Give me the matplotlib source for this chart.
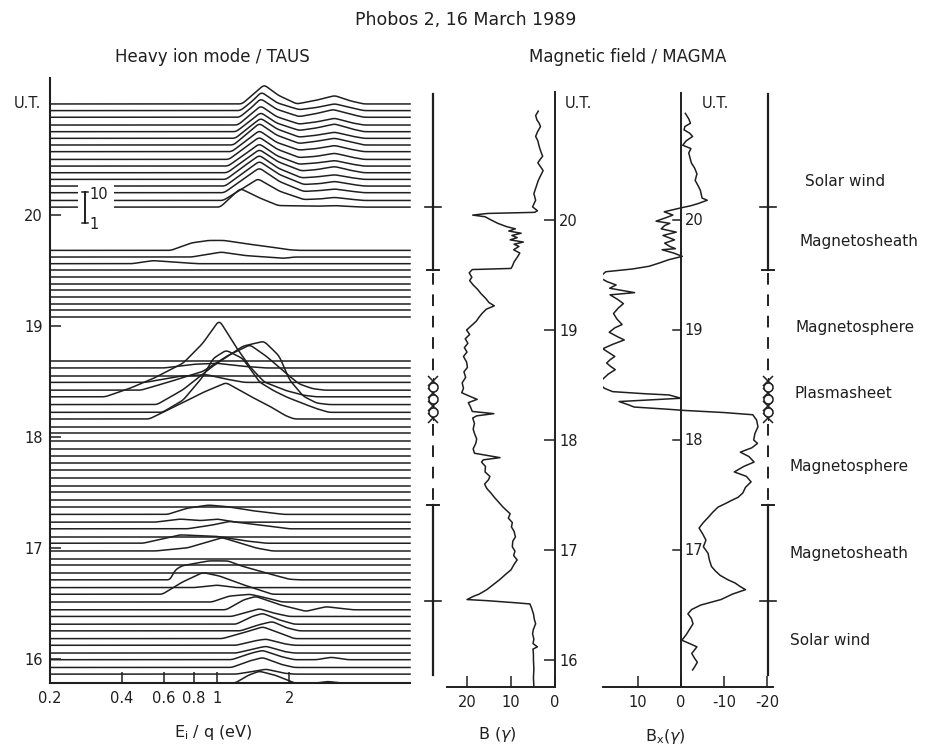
import numpy as np
import matplotlib
matplotlib.use("Agg")
import matplotlib.pyplot as plt
from matplotlib.patches import Rectangle

# ---------------- data ----------------
title = "Phobos 2, 16 March 1989"
left_title = "Heavy ion mode / TAUS"
right_title = "Magnetic field / MAGMA"

# energy tick values (eV)
energy_ticks = [0.2, 0.4, 0.6, 0.8, 1, 2]
energy_tick_labels = ["0.2", "0.4", "0.6", "0.8", "1", "2"]
ut_ticks = [16, 17, 18, 19, 20]

# UT (hours) of each heavy-ion spectrum baseline
spectra_ut = [
    21.00, 20.94, 20.88, 20.81, 20.75, 20.69, 20.63, 20.57, 20.50, 20.44,
    20.38, 20.32, 20.26, 20.20, 20.13, 20.07,
    19.68, 19.62, 19.56, 19.50, 19.44, 19.38, 19.32, 19.26, 19.20, 19.14, 19.08,
    18.68, 18.62, 18.55, 18.49, 18.42, 18.36, 18.29, 18.22, 18.16, 18.09,
    18.03, 17.96, 17.89, 17.83, 17.76, 17.70, 17.63, 17.56, 17.50, 17.43,
    17.37, 17.30, 17.23, 17.17, 17.10, 17.04, 16.97, 16.90, 16.84, 16.77,
    16.71, 16.64, 16.58, 16.51, 16.44, 16.38, 16.31, 16.25, 16.18, 16.12,
    16.05, 15.99, 15.92, 15.86, 15.78,
]

# non-flat spectra: index -> [(energy eV, log10 counts), ...]
spectra_shapes = {
    0: [(1.27, 0), (1.42, 0.32), (1.57, 0.62), (1.8, 0.28), (2.15, 0.0), (2.6, 0.12), (3.1, 0.27), (3.6, 0.1), (4.1, 0)],
    1: [(1.25, 0), (1.4, 0.3), (1.53, 0.6), (1.78, 0.25), (2.2, 0.03), (2.6, 0.1), (3.1, 0.22), (3.6, 0.1), (4.1, 0)],
    2: [(1.24, 0), (1.39, 0.31), (1.52, 0.6), (1.77, 0.26), (2.2, 0.02), (2.6, 0.12), (3.05, 0.25), (3.6, 0.1), (4.1, 0)],
    3: [(1.22, 0), (1.37, 0.32), (1.52, 0.62), (1.77, 0.27), (2.2, 0.03), (2.6, 0.1), (3.1, 0.22), (3.6, 0.08), (4.1, 0)],
    4: [(1.2, 0), (1.36, 0.32), (1.52, 0.62), (1.77, 0.28), (2.2, 0.04), (2.6, 0.12), (3.1, 0.25), (3.6, 0.1), (4.1, 0)],
    5: [(1.19, 0), (1.35, 0.34), (1.52, 0.65), (1.78, 0.3), (2.2, 0.04), (2.6, 0.1), (3.1, 0.2), (3.6, 0.08), (4.1, 0)],
    6: [(1.17, 0), (1.33, 0.36), (1.5, 0.7), (1.77, 0.32), (2.2, 0.05), (2.6, 0.12), (3.1, 0.22), (3.6, 0.1), (4.1, 0)],
    7: [(1.15, 0), (1.32, 0.35), (1.5, 0.68), (1.77, 0.3), (2.2, 0.05), (2.6, 0.1), (3.1, 0.2), (3.6, 0.08), (4.1, 0)],
    8: [(1.12, 0), (1.3, 0.37), (1.5, 0.72), (1.78, 0.33), (2.2, 0.06), (2.6, 0.1), (3.1, 0.2), (3.6, 0.08), (4.1, 0)],
    9: [(1.11, 0), (1.3, 0.37), (1.5, 0.72), (1.78, 0.33), (2.2, 0.06), (2.6, 0.1), (3.1, 0.18), (3.6, 0.07), (4.1, 0)],
    10: [(1.1, 0), (1.29, 0.38), (1.5, 0.75), (1.8, 0.35), (2.25, 0.06), (2.6, 0.1), (3.1, 0.2), (3.6, 0.08), (4.1, 0)],
    11: [(1.09, 0), (1.28, 0.4), (1.5, 0.78), (1.8, 0.36), (2.25, 0.05), (2.6, 0.08), (3.1, 0.15), (3.6, 0.06), (4.1, 0)],
    12: [(1.08, 0), (1.28, 0.41), (1.5, 0.8), (1.82, 0.37), (2.3, 0.05), (2.7, 0.08), (3.1, 0.15), (3.6, 0.06), (4.1, 0)],
    13: [(1.07, 0), (1.27, 0.41), (1.5, 0.8), (1.82, 0.36), (2.3, 0.04), (2.7, 0.07), (3.1, 0.12), (3.6, 0.05), (4.1, 0)],
    14: [(1.06, 0), (1.26, 0.36), (1.48, 0.7), (1.82, 0.3), (2.3, 0.03), (2.7, 0.05), (3.1, 0.1), (3.6, 0.04), (4.1, 0)],
    15: [(1.03, 0), (1.14, 0.32), (1.25, 0.6), (1.5, 0.3), (1.8, 0.05), (2.6, 0.03), (3.1, 0.05), (3.6, 0.02), (4.1, 0)],
    16: [(0.64, 0), (0.78, 0.24), (0.92, 0.32), (1.07, 0.32), (1.3, 0.22), (1.6, 0.13), (2.0, 0.02), (2.2, 0)],
    17: [(0.78, 0), (0.9, 0.08), (1.04, 0.16), (1.3, 0.05), (1.6, 0.0), (1.9, -0.04), (2.1, 0)],
    18: [(0.44, 0), (0.54, 0.1), (0.69, 0.04), (0.83, 0)],
    28: [(0.6, 0), (0.8, 0.12), (1.0, 0.15), (1.3, 0.05), (1.6, 0)],
    30: [(0.5, 0), (0.7, 0.2), (0.9, 0.25), (1.1, 0.1), (1.3, 0)],
    31: [(0.48, 0), (0.62, 0.25), (0.87, 0.6), (1.1, 1.1), (1.37, 1.46), (1.6, 1.1), (1.9, 0.6), (2.2, 0.2), (2.5, 0.05), (2.8, 0)],
    32: [(0.34, 0), (0.43, 0.27), (0.54, 0.59), (0.72, 1.08), (0.87, 1.72), (1.02, 2.47), (1.2, 1.6), (1.37, 0.97), (1.57, 0.48), (1.94, 0.2), (2.3, 0.05), (2.6, 0)],
    33: [(0.56, 0), (0.72, 0.48), (0.96, 1.24), (1.28, 1.88), (1.57, 2.04), (1.82, 1.56), (2.0, 0.81), (2.29, 0.27), (2.6, 0.05), (2.93, 0)],
    34: [(0.59, 0), (0.72, 0.39), (0.87, 1.14), (0.96, 1.73), (1.09, 2.0), (1.28, 1.73), (1.5, 0.98), (1.71, 0.71), (1.94, 0.5), (2.29, 0.28), (2.6, 0.12), (2.93, 0)],
    35: [(0.52, 0), (0.72, 0.53), (0.87, 0.85), (1.09, 1.17), (1.37, 0.74), (1.65, 0.42), (1.94, 0.1), (2.1, 0)],
    48: [(0.62, 0), (0.75, 0.2), (0.92, 0.3), (1.1, 0.25), (1.4, 0.12), (1.9, 0)],
    49: [(0.55, 0), (0.7, 0.1), (0.85, 0.05), (1.0, 0.1), (1.2, 0)],
    50: [(0.75, 0), (0.95, 0.12), (1.13, 0.24), (1.4, 0.15), (1.8, 0.05), (2.0, 0)],
    52: [(0.49, 0), (0.7, 0.27), (1.0, 0.22), (1.3, 0.08), (1.6, 0)],
    53: [(0.55, 0), (0.75, 0.1), (1.05, 0.43), (1.45, 0.1), (1.7, 0)],
    57: [(0.64, 0), (0.66, 0.29), (0.71, 0.45), (0.92, 0.61), (1.11, 0.61), (1.26, 0.45), (1.57, 0.24), (2.0, 0.02), (2.2, 0)],
    58: [(0.8, 0), (1.0, 0.08), (1.2, 0)],
    59: [(0.59, 0), (0.71, 0.38), (0.87, 0.7), (1.02, 0.59), (1.27, 0.32), (1.7, 0)],
    60: [(0.95, 0), (1.12, 0.19), (1.37, 0.25), (1.59, 0.14), (1.87, 0)],
    61: [(1.09, 0), (1.29, 0.32), (1.45, 0.43), (1.83, 0.16), (2.35, -0.05), (2.85, 0.1), (3.7, 0)],
    62: [(1.15, 0), (1.35, 0.15), (1.5, 0.25), (1.7, 0.12), (2.0, 0)],
    63: [(1.2, 0), (1.4, 0.25), (1.55, 0.35), (1.8, 0.15), (2.1, 0)],
    64: [(1.25, 0), (1.5, 0.2), (1.7, 0.3), (1.95, 0.1), (2.2, 0)],
    65: [(1.05, 0), (1.3, 0.2), (1.55, 0.38), (1.8, 0.2), (2.1, 0)],
    66: [(1.2, 0), (1.45, 0.15), (1.6, 0.2), (1.9, 0.05), (2.1, 0)],
    67: [(1.2, 0), (1.45, 0.15), (1.6, 0.22), (1.9, 0.05), (2.1, 0)],
    68: [(1.15, 0), (1.4, 0.22), (1.55, 0.3), (1.85, 0.1), (2.1, 0), (2.6, 0), (3.0, 0.08), (3.5, 0)],
    69: [(1.15, 0), (1.35, 0.2), (1.55, 0.32), (1.85, 0.1), (2.1, 0)],
    70: [(1.2, 0), (1.45, 0.1), (1.6, 0.16), (1.9, 0.03), (2.1, 0)],
    71: [(1.19, 0), (1.35, 0.25), (1.5, 0.38), (1.75, 0.25), (2.1, 0), (2.6, 0), (2.9, 0.05), (3.3, 0)],
}

# total field B (gamma) vs UT
B_ut = [20.99, 20.95, 20.91, 20.88, 20.85, 20.80, 20.76, 20.72, 20.67, 20.62, 20.58, 20.55, 20.52, 20.48,
        20.45, 20.40, 20.36, 20.30, 20.24, 20.18, 20.12, 20.085, 20.07, 20.06, 20.045, 20.03, 20.00, 19.97,
        19.94, 19.92, 19.90, 19.88, 19.86, 19.84, 19.82, 19.80, 19.78, 19.76, 19.73, 19.70, 19.66, 19.62,
        19.58, 19.56, 19.55, 19.52, 19.48, 19.45, 19.41, 19.37, 19.33, 19.29, 19.25, 19.22, 19.19, 19.15,
        19.12, 19.08, 19.04, 19.00, 18.96, 18.92, 18.88, 18.84, 18.80, 18.76, 18.71, 18.66, 18.62, 18.57,
        18.52, 18.47, 18.43, 18.40, 18.37, 18.34, 18.30, 18.26, 18.24, 18.22, 18.20, 18.15, 18.10, 18.06,
        18.01, 17.97, 17.92, 17.88, 17.84, 17.82, 17.80, 17.76, 17.71, 17.67, 17.64, 17.60, 17.56, 17.52,
        17.48, 17.44, 17.39, 17.36, 17.33, 17.29, 17.25, 17.21, 17.17, 17.12, 17.08, 17.03, 16.99, 16.95,
        16.91, 16.87, 16.82, 16.78, 16.73, 16.68, 16.64, 16.60, 16.58, 16.55, 16.54, 16.52, 16.51, 16.47,
        16.42, 16.37, 16.33, 16.28, 16.24, 16.19, 16.15, 16.12, 16.10, 16.05, 16.00, 15.92, 15.84, 15.76]
B_val = [3.8, 4.4, 4.1, 3.6, 3.3, 4.0, 4.4, 3.9, 3.6, 3.2, 2.8, 3.4, 3.9, 3.2,
         2.7, 3.3, 3.8, 4.3, 4.8, 4.4, 5.1, 4.0, 4.6, 15.3, 18.7, 15.9, 14.5, 13.0,
         11.0, 9.0, 10.5, 7.7, 9.8, 8.6, 10.2, 7.2, 9.3, 8.2, 9.4, 8.0, 8.6, 9.3,
         9.7, 10.0, 18.8, 19.5, 18.9, 19.4, 18.6, 17.6, 16.8, 15.8, 15.0, 13.8, 15.6, 16.6,
         17.2, 17.9, 19.0, 20.1, 19.4, 20.4, 19.8, 20.6, 20.0, 20.8, 20.1, 19.9, 20.7, 20.3,
         21.1, 20.8, 21.2, 19.5, 17.7, 19.7, 19.2, 18.8, 13.9, 17.8, 18.7, 18.3, 18.6, 18.3,
         17.8, 18.0, 18.6, 18.3, 12.5, 16.3, 16.7, 15.8, 15.9, 14.8, 15.1, 16.0, 15.5, 14.6,
         13.8, 12.9, 11.8, 11.0, 10.2, 10.6, 9.7, 9.9, 9.3, 9.0, 9.6, 9.7, 9.1, 9.4,
         8.6, 9.3, 10.0, 11.2, 12.6, 14.2, 15.5, 17.2, 18.5, 20.0, 15.5, 8.7, 5.7, 5.3,
         4.9, 4.7, 4.4, 4.9, 5.1, 4.8, 5.0, 4.0, 5.0, 4.9, 4.9, 4.8, 4.9, 4.8]

# Bx component (gamma) vs UT
Bx_ut = [20.97, 20.92, 20.88, 20.85, 20.82, 20.79, 20.76, 20.72, 20.68, 20.65, 20.61, 20.58, 20.52, 20.47,
         20.42, 20.36, 20.31, 20.27, 20.20, 20.18, 20.15, 20.13, 20.11, 20.075, 20.045, 20.02, 19.99, 19.97,
         19.95, 19.92, 19.89, 19.86, 19.82, 19.79, 19.76, 19.74, 19.73, 19.70, 19.67, 19.64, 19.61, 19.58,
         19.555, 19.53, 19.50, 19.47, 19.44, 19.41, 19.38, 19.34, 19.32, 19.28, 19.24, 19.20, 19.15, 19.10,
         19.05, 19.02, 18.98, 18.94, 18.91, 18.87, 18.83, 18.79, 18.76, 18.73, 18.70, 18.67, 18.64, 18.60,
         18.55, 18.50, 18.47, 18.44, 18.42, 18.41, 18.38, 18.35, 18.32, 18.30, 18.28, 18.27, 18.25, 18.23,
         18.18, 18.12, 18.06, 18.00, 17.97, 17.93, 17.89, 17.85, 17.80, 17.76, 17.71, 17.67, 17.62, 17.57,
         17.52, 17.48, 17.45, 17.42, 17.39, 17.34, 17.30, 17.25, 17.20, 17.15, 17.09, 17.03, 16.97, 16.91,
         16.85, 16.81, 16.77, 16.73, 16.70, 16.67, 16.64, 16.60, 16.55, 16.50, 16.46, 16.42, 16.38, 16.33,
         16.28, 16.23, 16.18, 16.15, 16.12, 16.06, 16.02, 15.98, 15.94, 15.91]
Bx_val = [-1.0, -1.8, -2.2, -0.9, -0.7, -2.0, -2.7, -1.2, -0.4, -2.3, -1.8, -2.0, -2.4, -3.2,
          -3.7, -3.3, -4.0, -4.5, -4.9, -6.1, -4.0, -2.3, 0.1, 3.9, 1.9, 3.6, 5.8, 2.6,
          3.8, 4.6, 1.1, 4.2, 1.5, 3.8, 2.6, 1.3, 4.4, 1.7, -0.3, 2.8, 5.0, 7.4,
          11.3, 17.5, 18.4, 18.6, 17.2, 15.1, 16.6, 10.8, 16.5, 14.8, 13.4, 14.6, 15.7, 14.9,
          13.7, 15.4, 16.7, 14.8, 13.2, 15.9, 18.2, 16.6, 15.4, 16.5, 17.3, 16.4, 15.3, 16.9,
          18.3, 18.7, 17.8, 15.9, 8.0, 2.8, 0.0, 14.4, 12.2, 10.9, 3.0, -0.4, -10.0, -16.7,
          -17.6, -17.9, -17.2, -16.9, -17.8, -16.5, -13.8, -15.8, -17.0, -14.6, -12.4, -15.2, -16.3, -15.0,
          -14.4, -13.3, -11.7, -10.2, -8.6, -7.3, -6.4, -5.2, -4.2, -5.0, -5.8, -5.2, -6.3, -6.6,
          -7.1, -8.0, -9.1, -10.9, -12.6, -13.7, -15.0, -12.0, -9.3, -4.6, -2.5, -1.6, -2.4, -2.8,
          -2.0, -1.2, -0.2, -2.0, -3.7, -2.5, -3.1, -3.8, -3.2, -2.7]

B_ticks = [20, 10, 0]
Bx_ticks = [10, 0, -10, -20]
Bx_ut_labels = [17, 18, 19, 20]

# plasma regions (UT boundaries, top to bottom)
region_bounds = [21.15, 20.12, 19.55, 18.56, 18.18, 17.41, 16.54, 15.86]
region_kind = ["solid", "solid", "dashed", "sheet", "dashed", "solid", "solid"]
region_names = ["Solar wind", "Magnetosheath", "Magnetosphere", "Plasmasheet",
                "Magnetosphere", "Magnetosheath", "Solar wind"]
region_label_ut = [20.35, 19.80, 19.02, 18.42, 17.76, 16.97, 16.18]

# ---------------- drawing ----------------
W, H = 937, 748
ink = "#1f1f1f"
fig = plt.figure(figsize=(W / 100, H / 100), dpi=100)
fig.patch.set_facecolor("white")


def rect(x0, y0, x1, y1):
    return [x0 / W, 1 - y1 / H, (x1 - x0) / W, (y1 - y0) / H]


def ftext(px, py, s, **kw):
    fig.text(px / W, 1 - py / H, s, color=ink, **kw)


ftext(466, 20, title, ha="center", va="center", fontsize=12.5)
ftext(212, 57, left_title, ha="center", va="center", fontsize=12)
ftext(628, 57, right_title, ha="center", va="center", fontsize=12)

# ---- spectra panel ----
DECADE = 0.28  # UT-hours per decade of counts
E_LO, E_HI = 0.2, 6.4
fine_log = np.linspace(np.log10(E_LO), np.log10(E_HI), 500)
kern = np.hanning(15)
kern = kern / kern.sum()


def smooth_trace(E, L):
    lf = np.interp(fine_log, np.log10(E), L)
    pad = len(kern)
    lp = np.concatenate([np.full(pad, lf[0]), lf, np.full(pad, lf[-1])])
    return np.convolve(lp, kern, mode="same")[pad:-pad]


axS = fig.add_axes(rect(50, 78, 410, 683))
axS.set_xscale("log")
axS.set_xlim(E_LO, E_HI)
axS.set_ylim(15.78, 21.234)
for i, t in enumerate(spectra_ut):
    pts = spectra_shapes.get(i, [])
    E = [E_LO] + [p[0] for p in pts] + [E_HI]
    L = np.array([0.0] + [p[1] for p in pts] + [0.0])
    axS.plot(10 ** fine_log, t + smooth_trace(E, L) * DECADE, color=ink, lw=1.1,
             clip_on=False, zorder=2)

# gap + intensity scale bar
axS.add_patch(Rectangle((0.262, 19.9), 0.37 - 0.262, 0.39, facecolor="white",
                        edgecolor="none", zorder=3))
axS.plot([0.28, 0.28], [19.93, 20.21], color=ink, lw=1.4, zorder=4)
axS.plot([0.272, 0.289], [20.21, 20.21], color=ink, lw=1.1, zorder=4)
axS.plot([0.272, 0.289], [19.93, 19.93], color=ink, lw=1.1, zorder=4)
axS.text(0.292, 20.18, "10", fontsize=10.5, color=ink, va="center", ha="left", zorder=5)
axS.text(0.292, 19.91, "1", fontsize=10.5, color=ink, va="center", ha="left", zorder=5)

for s in ["top", "right"]:
    axS.spines[s].set_visible(False)
for s in ["left", "bottom"]:
    axS.spines[s].set_linewidth(1.5)
    axS.spines[s].set_color(ink)
axS.set_xticks(energy_ticks)
axS.set_xticklabels(energy_tick_labels)
axS.xaxis.set_minor_locator(matplotlib.ticker.NullLocator())
axS.set_yticks(ut_ticks)
axS.set_yticklabels([str(u) for u in ut_ticks])
axS.tick_params(axis="both", direction="in", length=8, width=1.1, color=ink,
                labelcolor=ink, labelsize=10.5)
axS.tick_params(axis="x", pad=6)
axS.tick_params(axis="y", pad=5)
axS.patch.set_alpha(0)
ftext(27, 103, "U.T.", ha="center", va="center", fontsize=10.5)
ftext(213, 733, r"E$_\mathregular{i}$ / q (eV)", ha="center", va="center", fontsize=11.5)

# ---- B panel ----
UT_TOP, UT_BOT = 21.164, 15.755
axB = fig.add_axes(rect(447.2, 92, 555, 687))
axB.plot(B_val, B_ut, color=ink, lw=1.1)
axB.set_xlim(24.5, 0)
axB.set_ylim(UT_BOT, UT_TOP)
for s in ["top", "left"]:
    axB.spines[s].set_visible(False)
for s in ["right", "bottom"]:
    axB.spines[s].set_linewidth(1.4)
    axB.spines[s].set_color(ink)
axB.yaxis.tick_right()
axB.set_yticks(ut_ticks)
axB.set_yticklabels([str(u) for u in ut_ticks])
axB.set_xticks(B_ticks)
axB.set_xticklabels([str(v) for v in B_ticks])
axB.tick_params(axis="both", direction="in", length=8, width=1.1, color=ink,
                labelcolor=ink, labelsize=10.5)
axB.tick_params(axis="y", pad=3)
axB.tick_params(axis="x", pad=6)
axB.patch.set_alpha(0)
ftext(578, 103, "U.T.", ha="center", va="center", fontsize=10.5)
ftext(497, 735, r"B ($\gamma$)", ha="center", va="center", fontsize=11.5)

# ---- Bx panel ----
axX = fig.add_axes(rect(603.2, 92, 773, 687))
axX.plot(Bx_val, Bx_ut, color=ink, lw=1.1)
axX.set_xlim(18.1, -21.4)
axX.set_ylim(UT_BOT, UT_TOP)
axX.plot([0, 0], [UT_BOT, UT_TOP], color=ink, lw=1.4)
for u in Bx_ut_labels:
    axX.plot([0, 1.9], [u, u], color=ink, lw=1.1)
    axX.text(-0.9, u, str(u), fontsize=10.5, color=ink, va="center", ha="left")
for s in ["top", "left", "right"]:
    axX.spines[s].set_visible(False)
axX.spines["bottom"].set_linewidth(1.4)
axX.spines["bottom"].set_color(ink)
axX.set_yticks([])
axX.set_xticks(Bx_ticks)
axX.set_xticklabels([str(v) for v in Bx_ticks])
axX.tick_params(axis="x", direction="in", length=8, width=1.1, color=ink,
                labelcolor=ink, labelsize=10.5, pad=6)
axX.patch.set_alpha(0)
ftext(715, 103, "U.T.", ha="center", va="center", fontsize=10.5)
ftext(665, 737, r"B$_\mathregular{x}$($\gamma$)", ha="center", va="center", fontsize=11.5)

# ---- region bars & labels ----
ov = fig.add_axes([0, 0, 1, 1])
ov.set_xlim(0, W)
ov.set_ylim(15.2, 22.0)
ov.axis("off")
ov.patch.set_alpha(0)
for bx in [433, 768]:
    for k, kind in enumerate(region_kind):
        y0, y1 = region_bounds[k], region_bounds[k + 1]
        if kind == "solid":
            ov.plot([bx, bx], [y0, y1], color=ink, lw=1.6)
        elif kind == "dashed":
            ov.plot([bx, bx], [y0 - 0.03, y1 + 0.03], color=ink, lw=1.4, ls=(0, (6, 5)))
        else:
            ys = np.linspace(y0 - 0.02, y1 + 0.02, 7)
            ov.plot([bx, bx], [y0, y1], color=ink, lw=0.8)
            ov.plot([bx] * 4, ys[::2], ls="none", marker="x", ms=6.5, mew=1.1, color=ink)
            ov.plot([bx] * 3, ys[1::2], ls="none", marker="o", ms=6.5, mew=1.1,
                    mfc="white", mec=ink)
    for ub in [region_bounds[1], region_bounds[6]]:
        ov.plot([bx - 8, bx + 8], [ub, ub], color=ink, lw=1.2)
    for ub in [region_bounds[2], region_bounds[5]]:
        ov.plot([bx - 6, bx + 6], [ub, ub], color=ink, lw=1.4)

label_px = [805, 800, 796, 795, 790, 790, 790]
for name, u, px in zip(region_names, region_label_ut, label_px):
    ov.text(px, u, name, fontsize=11, color=ink, va="center", ha="left")

fig.savefig("out.png", dpi=100, facecolor="white")
